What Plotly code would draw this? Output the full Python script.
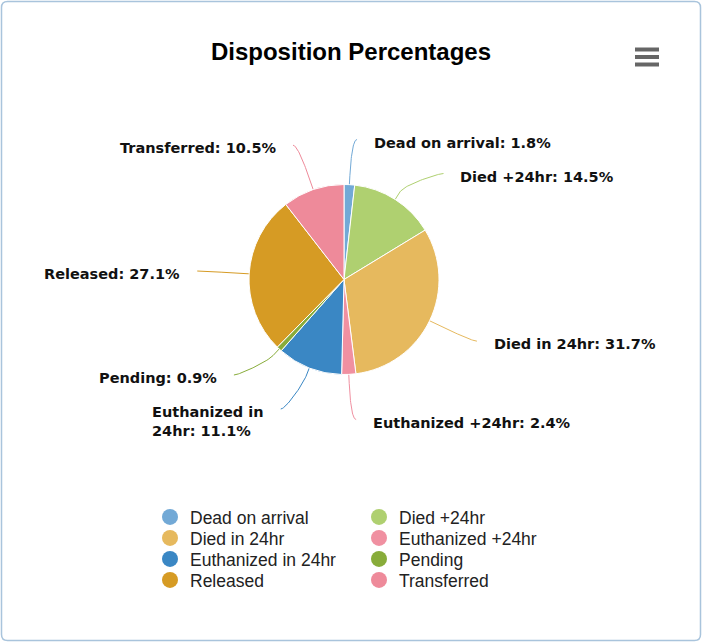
import textwrap
import numpy as np
import plotly.graph_objects as go

# ---------------- data ----------------
categories = ["Dead on arrival", "Died +24hr", "Died in 24hr", "Euthanized +24hr",
              "Euthanized in 24hr", "Pending", "Released", "Transferred"]
percentages = [1.8, 14.5, 31.7, 2.4, 11.1, 0.9, 27.1, 10.5]
colors = ["#72a9d6", "#afd070", "#e6b95e", "#f090a1",
          "#3a87c4", "#88ac3a", "#d69b24", "#ee8a9a"]
title_text = "Disposition Percentages"

# ---------------- geometry (pixels) ----------------
W, H = 702, 642
CX, CY, R = 344, 279.5, 95
LABEL_R = 142          # radius of the label circle
BREAK_OFF = 9          # connector break distance outside the slice
PAD = 5
TEXT_GAP = 15
SPACING = 34           # box height of a one-line label
LINE_H = 22            # extra height per additional label line
ANCHOR_OFF = 17        # anchor position inside the label box

vals = np.array(percentages, dtype=float)
frac = vals / vals.sum()
mid = (np.cumsum(frac) - frac / 2) * 2 * np.pi  # clockwise from 12 o'clock
sx, sy = np.sin(mid), -np.cos(mid)
is_left = sx < 0
natural_y = CY + sy * LABEL_R
lo, hi = CY - LABEL_R + 2, CY + LABEL_R - 2

label_lines = []
for i in range(len(vals)):
    txt = f"{categories[i]}: {percentages[i]:.1f}%"
    label_lines.append(textwrap.wrap(txt, width=18 if is_left[i] else 26))
box_size = np.array([SPACING + LINE_H * (len(l) - 1) for l in label_lines], dtype=float)


def distribute(idx):
    order = sorted(idx, key=lambda m: natural_y[m])
    groups = []

    def offsets(g):
        off, acc = [], 0.0
        for m in g:
            off.append(acc)
            acc += box_size[m]
        return off, acc

    def gtop(g):
        off, total = offsets(g)
        t = np.mean([natural_y[m] - box_size[m] / 2 - o for m, o in zip(g, off)])
        return min(max(t, lo - ANCHOR_OFF), hi - ANCHOR_OFF - off[-1])

    for i in order:
        groups.append([i])
        while len(groups) > 1:
            prev, cur = groups[-2], groups[-1]
            if gtop(cur) < gtop(prev) + offsets(prev)[1]:
                groups[-2] = prev + cur
                groups.pop()
            else:
                break
    out = {}
    for g in groups:
        t = gtop(g)
        off, _ = offsets(g)
        for m, o in zip(g, off):
            out[m] = t + o + ANCHOR_OFF
    return out


label_y = np.zeros(len(vals))
for side in (True, False):
    idx = [i for i in range(len(vals)) if is_left[i] == side]
    for i, yv in distribute(idx).items():
        label_y[i] = yv

label_x = np.zeros(len(vals))
for i in range(len(vals)):
    use_y = natural_y[i] if (label_y[i] <= lo + 1e-6 or label_y[i] >= hi - 1e-6) else label_y[i]
    dx = np.sqrt(max(LABEL_R ** 2 - (use_y - CY) ** 2, 0)) + PAD
    label_x[i] = CX - dx if is_left[i] else CX + dx

fig = go.Figure()

# connectors
t = np.linspace(0, 1, 30)
for i in range(len(vals)):
    touch = np.array([CX + sx[i] * R, CY + sy[i] * R])
    brk = np.array([CX + sx[i] * (R + BREAK_OFF), CY + sy[i] * (R + BREAK_OFF)])
    p0 = np.array([label_x[i], label_y[i]])
    p1 = np.array([label_x[i] + (5 if is_left[i] else -5), label_y[i]])
    p2 = 2 * brk - touch
    p3 = brk
    bx = ((1 - t) ** 3)[:, None] * p0 + (3 * (1 - t) ** 2 * t)[:, None] * p1 + \
         (3 * (1 - t) * t ** 2)[:, None] * p2 + (t ** 3)[:, None] * p3
    xs = list(bx[:, 0]) + [touch[0]]
    ys = list(bx[:, 1]) + [touch[1]]
    fig.add_trace(go.Scatter(x=xs, y=ys, mode="lines", line=dict(color=colors[i], width=1),
                             hoverinfo="skip", showlegend=False))

# pie
fig.add_trace(go.Pie(
    labels=categories, values=percentages, sort=False, direction="clockwise", rotation=0,
    marker=dict(colors=colors, line=dict(color="white", width=1)),
    textinfo="none", showlegend=False,
    domain=dict(x=[(CX - R) / W, (CX + R) / W], y=[1 - (CY + R) / H, 1 - (CY - R) / H]),
    hovertemplate="%{label}: %{value:.1f}%<extra></extra>",
))

# legend: one single-entry legend per category, laid out in two columns
LEG_X0, LEG_DX, LEG_Y0, LEG_DY = 150, 209, 499, 21
legend_layouts = {}
for i, (c, col) in enumerate(zip(categories, colors)):
    key = "legend" if i == 0 else f"legend{i + 1}"
    fig.add_trace(go.Scatter(x=[None], y=[None], mode="markers", name=c, legend=key,
                             marker=dict(color=col, size=16, symbol="circle")))
    legend_layouts[key] = dict(
        x=(LEG_X0 + LEG_DX * (i % 2)) / W, xanchor="left",
        y=1 - (LEG_Y0 + LEG_DY * (i // 2)) / H, yanchor="top",
        xref="container", yref="container", bgcolor="rgba(0,0,0,0)",
        itemclick=False, itemdoubleclick=False,
        font=dict(family="Liberation Sans, Arial", size=17.5, color="#222222"),
    )

# labels
annotations = []
for i in range(len(vals)):
    annotations.append(dict(
        x=label_x[i] + (-TEXT_GAP if is_left[i] else TEXT_GAP), y=label_y[i] - 7,
        xref="x", yref="y", xanchor="right" if is_left[i] else "left", yanchor="top",
        align="left", showarrow=False,
        text="<br>".join(f"<b>{ln}</b>" for ln in label_lines[i]),
        font=dict(family="DejaVu Sans", size=14.5, color="#111111"),
    ))

# border (rounded) and menu icon
rr = 6
x0, y0, x1, y1 = 1.5, 1.5, W - 1.5, H - 1.5
border_path = (f"M {x0+rr} {y0} L {x1-rr} {y0} Q {x1} {y0} {x1} {y0+rr} L {x1} {y1-rr} "
               f"Q {x1} {y1} {x1-rr} {y1} L {x0+rr} {y1} Q {x0} {y1} {x0} {y1-rr} "
               f"L {x0} {y0+rr} Q {x0} {y0} {x0+rr} {y0} Z")
shapes = [dict(type="path", path=border_path, xref="x", yref="y",
               line=dict(color="#a9c4dc", width=1.5))]
for yy in (49.5, 57, 64.5):
    shapes.append(dict(type="line", x0=635, x1=659, y0=yy, y1=yy, xref="x", yref="y",
                       line=dict(color="#666666", width=4)))

fig.update_layout(
    width=W, height=H, margin=dict(l=0, r=0, t=0, b=0, autoexpand=False),
    paper_bgcolor="white", plot_bgcolor="white",
    xaxis=dict(range=[0, W], visible=False, fixedrange=True),
    yaxis=dict(range=[H, 0], visible=False, fixedrange=True),
    title=dict(text=f"<b>{title_text}</b>", x=0.5, xanchor="center",
               y=1 - 52 / H, yanchor="middle", yref="container",
               font=dict(family="Liberation Sans, Arial", size=24, color="#000000")),
    annotations=annotations, shapes=shapes, showlegend=True,
    **legend_layouts,
)

fig.write_html("out.html", config={"displayModeBar": False},
               post_script="document.body.style.margin='0px';")
